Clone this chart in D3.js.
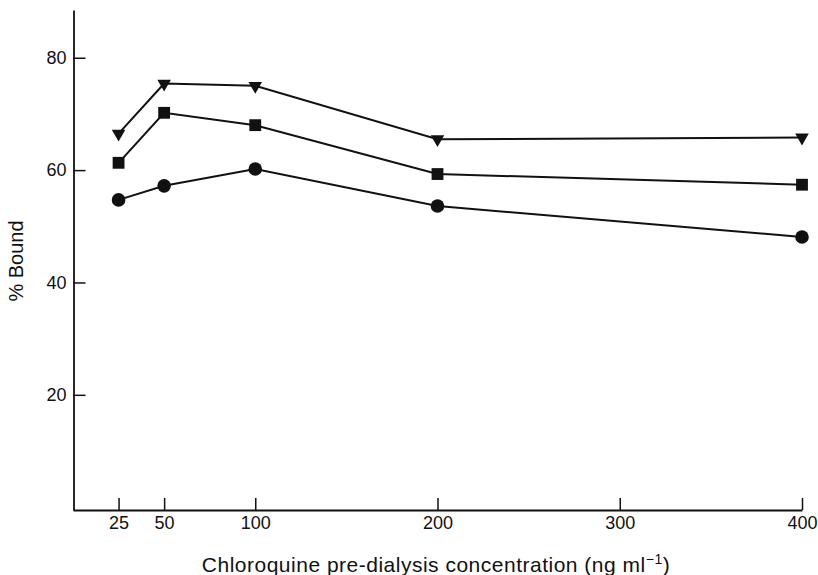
<!DOCTYPE html>
<html>
<head>
<meta charset="utf-8">
<script src="https://cdn.jsdelivr.net/npm/d3@7"></script>
<style>
	body { margin: 0; background: #fff; }
	svg { display: block; font-family: "Liberation Sans", Arial, sans-serif; }
	.axis path, .axis line { stroke: #111; }
	.axis text { fill: #111; font-size: 18px; }
</style>
</head>
<body>
<svg id="chart" width="818" height="575"></svg>
<script>

// concentrations (ng/ml)
var conc = [25, 50, 100, 200, 400];

// % bound
var triangles = [66.5, 75.4, 75.0, 65.5, 65.8],
	squares = [61.3, 70.2, 68.0, 59.3, 57.4],
	circles = [54.7, 57.2, 60.2, 53.6, 48.1];

var xTicks = [25, 50, 100, 200, 300, 400],
	yTicks = [20, 40, 60, 80];

var svg = d3.select("#chart");

var x = d3.scaleLinear()
		.domain([0, 400])
		.range([73, 802]);

var y = d3.scaleLinear()
		.domain([-0.5, 88.5])
		.range([510, 10]);

// axes, ticks pointing inwards
svg.append("g")
	.attr("class", "axis")
	.attr("transform", "translate(0,510)")
	.call(d3.axisBottom(x)
		.tickValues(xTicks)
		.tickSizeInner(-12)
		.tickSizeOuter(0)
		.tickPadding(6))
	.call(function(g) {
		g.select(".domain").attr("stroke-width", 1.8);
		g.selectAll(".tick line").attr("stroke-width", 1.5);
	});

svg.append("g")
	.attr("class", "axis")
	.attr("transform", "translate(73.5,0)")
	.call(d3.axisLeft(y)
		.tickValues(yTicks)
		.tickSizeInner(-12)
		.tickSizeOuter(0)
		.tickPadding(7))
	.call(function(g) {
		g.select(".domain").attr("stroke-width", 1.8);
		g.selectAll(".tick line").attr("stroke-width", 1.5);
	});

// axis titles
svg.append("text")
	.attr("x", 436)
	.attr("y", 572)
	.attr("text-anchor", "middle")
	.attr("font-size", "21px")
	.attr("letter-spacing", "0.5px")
	.attr("fill", "#111")
	.call(function(t) {
		t.append("tspan").text("Chloroquine pre-dialysis concentration (ng ml");
		t.append("tspan").attr("dy", -8).attr("font-size", "14px").text("\u22121");
		t.append("tspan").attr("dy", 8).text(")");
	});

svg.append("text")
	.attr("transform", "rotate(-90)")
	.attr("x", -261)
	.attr("y", 23)
	.attr("text-anchor", "middle")
	.attr("font-size", "20px")
	.attr("fill", "#111")
	.text("% Bound");

// series
var series = [
	{ values: triangles, symbol: d3.symbolTriangle, size: 80, rotate: 180 },
	{ values: squares, symbol: d3.symbolSquare, size: 140, rotate: 0 },
	{ values: circles, symbol: d3.symbolCircle, size: 145, rotate: 0 }
];

var line = d3.line()
	.x(function(d) { return x(d[0]); })
	.y(function(d) { return y(d[1]); });

series.forEach(function(s) {
	var pts = conc.map(function(c, i) { return [c, s.values[i]]; });

	svg.append("path")
		.datum(pts)
		.attr("d", line)
		.attr("fill", "none")
		.attr("stroke", "#111")
		.attr("stroke-width", 2);

	svg.selectAll(null)
		.data(pts)
		.enter()
		.append("path")
		.attr("d", d3.symbol().type(s.symbol).size(s.size))
		.attr("transform", function(d) {
			return "translate(" + x(d[0]) + "," + y(d[1]) + ") rotate(" + s.rotate + ")";
		})
		.attr("fill", "#111");
});

</script>
</body>
</html>
